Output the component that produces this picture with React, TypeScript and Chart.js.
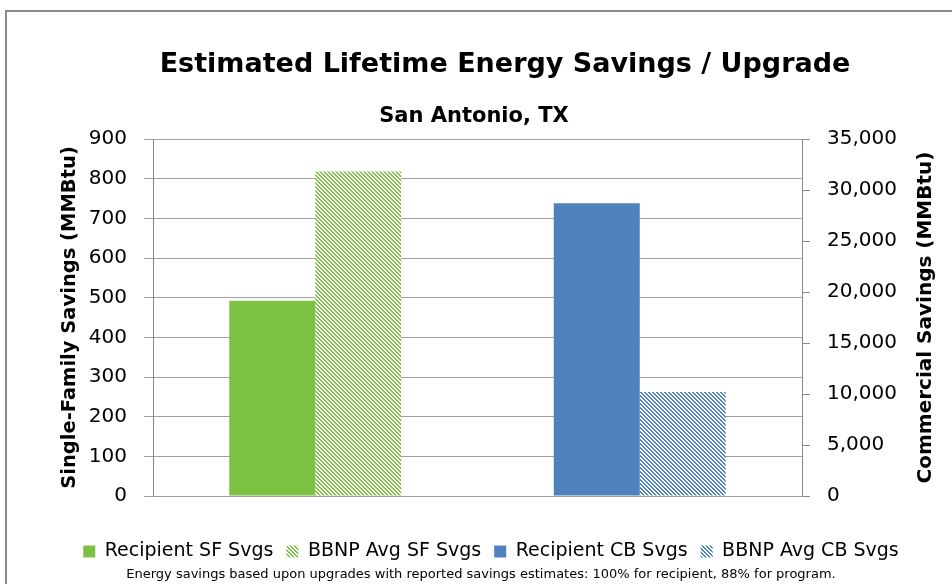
import React, { useEffect, useRef } from "react";
import { Chart, registerables } from "chart.js";
Chart.register(...registerables);

const categories = ["Single-Family", "Commercial"];
const seriesNames = ["Recipient SF Svgs", "BBNP Avg SF Svgs", "Recipient CB Svgs", "BBNP Avg CB Svgs"];
const recipientSF = [492, null];
const bbnpSF = [818, null];
const recipientCB = [null, 28700];
const bbnpCB = [null, 10200];
const chartTitle = "Estimated Lifetime Energy Savings / Upgrade";
const chartSubtitle = "San Antonio, TX";
const leftAxisTitle = "Single-Family Savings (MMBtu)";
const rightAxisTitle = "Commercial Savings (MMBtu)";
const footnote = "Energy savings based upon upgrades with reported savings estimates: 100% for recipient, 88% for program.";

const FONT = "'DejaVu Sans', 'Open Sans', sans-serif";
const GREEN = "#7CC142";
const BLUE = "#4F81BD";

function hatch(color: string) {
  const c = document.createElement("canvas");
  c.width = 4;
  c.height = 4;
  const g = c.getContext("2d")!;
  g.fillStyle = "#ffffff";
  g.fillRect(0, 0, 4, 4);
  g.fillStyle = color;
  for (let i = 0; i < 4; i++) {
    g.fillRect(i, i, 1, 1);
    g.fillRect((i + 1) % 4, i, 1, 1);
  }
  return g.createPattern(c, "repeat");
}

export default function App() {
  const ref = useRef<HTMLCanvasElement>(null);
  useEffect(() => {
    const canvas = ref.current!;
    const extras = {
      id: "extras",
      afterDraw(chart: any) {
        const ctx = chart.ctx;
        const a = chart.chartArea;
        ctx.save();
        ctx.fillStyle = "#000";
        ctx.textAlign = "center";
        ctx.textBaseline = "middle";
        ctx.font = `bold 27px ${FONT}`;
        ctx.fillText(chartTitle, 505, 65);
        ctx.font = `bold 21px ${FONT}`;
        ctx.fillText(chartSubtitle, 474, 117);
        ctx.font = `13px ${FONT}`;
        ctx.fillText(footnote, 481, 575);
        ctx.font = `bold 20px ${FONT}`;
        ctx.translate(926, (a.top + a.bottom) / 2);
        ctx.rotate(-Math.PI / 2);
        ctx.fillText(rightAxisTitle, 0, 0);
        ctx.restore();
      },
    };
    const chart = new Chart(canvas, {
      type: "bar",
      data: {
        labels: categories,
        datasets: [
          { label: seriesNames[0], data: recipientSF, backgroundColor: GREEN, yAxisID: "y", skipNull: true },
          { label: seriesNames[1], data: bbnpSF, backgroundColor: hatch(GREEN) as any, yAxisID: "y", skipNull: true },
          { label: seriesNames[2], data: recipientCB, backgroundColor: BLUE, yAxisID: "y1", skipNull: true },
          { label: seriesNames[3], data: bbnpCB, backgroundColor: hatch(BLUE) as any, yAxisID: "y1", skipNull: true },
        ] as any,
      },
      options: {
        responsive: false,
        animation: false,
        layout: { padding: { left: 30, right: 0, top: 139, bottom: 13 } },
        datasets: { bar: { categoryPercentage: 0.53, barPercentage: 1 } } as any,
        plugins: {
          title: { display: false },
          subtitle: { display: false },
          legend: {
            position: "bottom",
            labels: {
              boxWidth: 12,
              boxHeight: 12,
              color: "#000",
              font: { family: FONT, size: 19 },
              padding: 13,
            },
          },
          tooltip: { enabled: false },
        },
        scales: {
          x: {
            display: true,
            ticks: { display: false },
            grid: { display: false },
            border: { display: false },
            afterFit: (s: any) => {
              s.height = 33;
            },
          },
          y: {
            position: "left",
            min: 0,
            max: 900,
            ticks: { stepSize: 100, padding: 17, color: "#000", font: { family: FONT, size: 20 } },
            grid: { color: "#a0a0a0", tickLength: 9, drawTicks: true },
            border: { color: "#888" },
            title: {
              display: true,
              text: leftAxisTitle,
              color: "#000",
              font: { family: FONT, size: 19.5, weight: "bold" },
              padding: { top: 28, bottom: 0 },
            },
            afterFit: (s: any) => {
              s.width = 123;
            },
          },
          y1: {
            position: "right",
            min: 0,
            max: 35000,
            ticks: { stepSize: 5000, padding: 17, color: "#000", font: { family: FONT, size: 20 } },
            grid: { drawOnChartArea: false, color: "#888", tickLength: 8 },
            border: { color: "#888" },
            afterFit: (s: any) => {
              s.width = 150;
            },
          },
        },
      } as any,
      plugins: [extras],
    });
    return () => chart.destroy();
  }, []);
  return (
    <div style={{ position: "fixed", left: 0, top: 0, width: 952, height: 584, overflow: "hidden", background: "#fff" }}>
      <div
        style={{
          position: "absolute",
          left: 5,
          top: 10,
          width: 980,
          height: 620,
          border: "2px solid #8a8a8a",
          boxSizing: "border-box",
        }}
      />
      <canvas ref={ref} width={952} height={584} style={{ position: "absolute", left: 0, top: 0 }} />
    </div>
  );
}
